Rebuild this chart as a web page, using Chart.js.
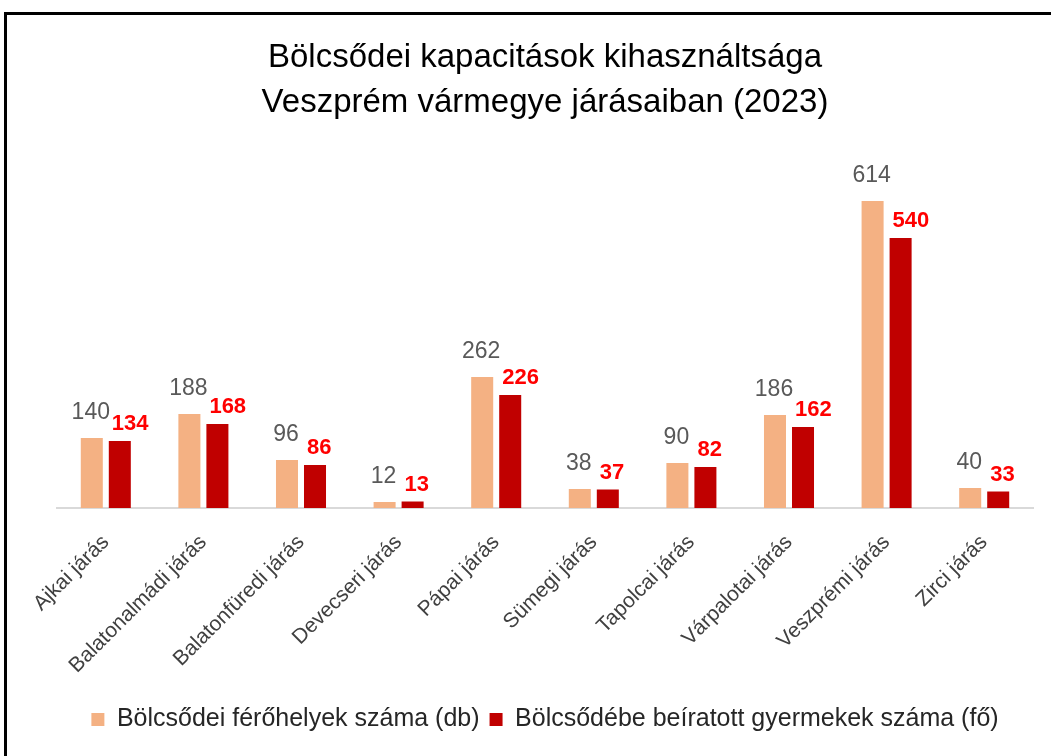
<!DOCTYPE html>
<html><head><meta charset="utf-8">
<script src="https://cdn.jsdelivr.net/npm/chart.js@4"></script>
<style>
html,body{margin:0;padding:0;background:#fff;overflow:hidden;}
#frame{position:absolute;left:4px;top:12px;width:1060px;height:760px;border:3px solid #000;box-sizing:border-box;}
#wrap{position:absolute;left:0;top:0;width:1051px;height:756px;}
</style></head>
<body>
<div id="frame"></div>
<div id="wrap"><canvas id="c" width="1051" height="756"></canvas></div>
<script>
const categories = ["Ajkai járás","Balatonalmádi járás","Balatonfüredi járás","Devecseri járás","Pápai járás","Sümegi járás","Tapolcai járás","Várpalotai járás","Veszprémi járás","Zirci járás"];
const ferohelyek = [140,188,96,12,262,38,90,186,614,40];
const beiratott = [134,168,86,13,226,37,82,162,540,33];
const seriesNames = ["Bölcsődei férőhelyek száma (db)","Bölcsődébe beíratott gyermekek száma (fő)"];
const titleLines = ["Bölcsődei kapacitások kihasználtsága","Veszprém vármegye járásaiban (2023)"];

const FONT = '"Liberation Sans", Arial, sans-serif';

const labelPlugin = {
  id:'barLabels',
  afterDatasetsDraw(chart){
    const ctx = chart.ctx;
    chart.data.datasets.forEach((ds,i)=>{
      const meta = chart.getDatasetMeta(i);
      meta.data.forEach((bar,j)=>{
        ctx.save();
        ctx.textBaseline='alphabetic';
        if(i===0){
          ctx.fillStyle='#595959';
          ctx.font='23px '+FONT;
          ctx.textAlign='center';
          ctx.fillText(String(ds.data[j]), bar.x-1, bar.y-19);
        } else {
          ctx.fillStyle='#FF0000';
          ctx.font='bold 22px '+FONT;
          ctx.textAlign='left';
          ctx.fillText(String(ds.data[j]), bar.x-bar.width/2+3, bar.y-11);
        }
        ctx.restore();
      });
    });
  }
};

new Chart(document.getElementById('c'),{
  type:'bar',
  data:{
    labels:categories,
    datasets:[
      {label:seriesNames[0],data:ferohelyek,backgroundColor:'#F4B183',categoryPercentage:0.574,barPercentage:0.786},
      {label:seriesNames[1],data:beiratott,backgroundColor:'#C00000',categoryPercentage:0.574,barPercentage:0.786}
    ]
  },
  options:{
    responsive:false,
    animation:false,
    layout:{padding:{top:13,left:57,right:18,bottom:14}},
    plugins:{
      title:{display:true,text:titleLines,color:'#000',font:{family:FONT,size:33,weight:'normal',lineHeight:1.364},padding:{top:22,bottom:33}},
      legend:{position:'bottom',labels:{color:'#262626',font:{family:FONT,size:25},boxWidth:13,boxHeight:13,padding:10}},
      tooltip:{enabled:false}
    },
    scales:{
      x:{
        grid:{display:false},
        border:{color:'#d9d9d9',width:2},
        ticks:{color:'#404040',font:{family:FONT,size:21},maxRotation:45,minRotation:45,padding:14},
        afterFit(s){s.height=189;}
      },
      y:{display:false,min:0,max:700}
    }
  },
  plugins:[labelPlugin]
});
</script>
</body></html>
